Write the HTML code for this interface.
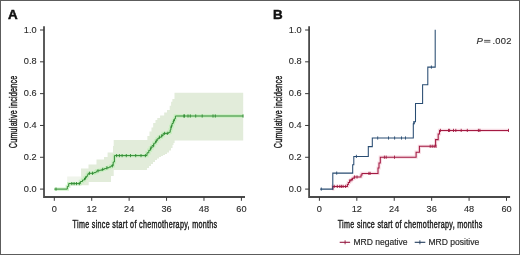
<!DOCTYPE html>
<html><head><meta charset="utf-8"><style>
html,body{margin:0;padding:0;background:#fff;}
svg{display:block;will-change:transform;}
text{font-family:"Liberation Sans",sans-serif;fill:#222;}
.tk{font-size:9.2px;fill:#2a2a2a;stroke:#2a2a2a;stroke-width:0.12px;}
.lab{font-size:10.7px;fill:#1a1a1a;stroke:#1a1a1a;stroke-width:0.42px;}
.pl{font-size:13.4px;font-weight:bold;fill:#111;stroke:#111;stroke-width:0.5px;}
.pv{font-size:9.2px;fill:#2a2a2a;stroke:#2a2a2a;stroke-width:0.12px;}
.lg{font-size:8.7px;fill:#2a2a2a;stroke:#2a2a2a;stroke-width:0.18px;}
.lgl{font-size:8.4px;stroke-width:0.08px;fill:#333;}
</style></head><body>
<svg width="520" height="255" viewBox="0 0 520 255">
<rect x="0" y="0" width="520" height="255" fill="#fff"/>
<polygon points="67.20,176.50 81.00,176.50 81.00,168.50 88.50,168.50 88.50,164.50 96.50,164.50 96.50,159.50 104.00,159.50 104.00,157.00 107.60,157.00 107.60,152.60 113.00,152.60 113.00,146.00 113.70,146.00 113.70,140.00 147.40,140.00 147.40,136.00 149.50,136.00 149.50,131.50 151.50,131.50 151.50,127.50 153.20,127.50 153.20,123.00 155.50,123.00 155.50,120.00 157.30,120.00 157.30,118.00 160.10,118.00 160.10,115.40 164.20,115.40 164.20,112.50 167.00,112.50 167.00,110.00 169.70,110.00 169.70,105.80 171.10,105.80 171.10,101.70 172.40,101.70 172.40,99.00 174.50,99.00 174.50,92.70 243.20,92.70 243.20,140.60 174.60,140.60 174.60,143.00 173.50,143.00 173.50,145.00 172.50,145.00 172.50,148.00 171.00,148.00 171.00,150.50 169.00,150.50 169.00,152.50 167.00,152.50 167.00,154.00 165.00,154.00 165.00,155.00 163.00,155.00 163.00,156.00 161.00,156.00 161.00,157.00 159.00,157.00 159.00,158.50 157.00,158.50 157.00,160.00 155.00,160.00 155.00,162.00 153.00,162.00 153.00,164.00 151.00,164.00 151.00,166.00 149.00,166.00 149.00,168.00 147.00,168.00 147.00,170.00 113.70,170.00 113.70,176.00 111.00,176.00 111.00,182.00 88.70,182.00 88.70,185.30 81.00,185.30 81.00,186.00 67.20,186.00" fill="#e2ecda"/>
<rect x="67" y="176" width="14.2" height="11" fill="#fff" fill-opacity="0.45"/>
<path d="M44.00 27.20V197.00H244.10" stroke="#4a4a4a" stroke-width="1.8" fill="none" stroke-linecap="square"/>
<path d="M40.00 189.10H44.00M40.00 157.28H44.00M40.00 125.46H44.00M40.00 93.64H44.00M40.00 61.82H44.00M40.00 30.00H44.00M54.30 197.00V200.80M91.72 197.00V200.80M129.14 197.00V200.80M166.56 197.00V200.80M203.98 197.00V200.80M241.40 197.00V200.80" stroke="#383838" stroke-width="1.0" fill="none"/>
<text x="36.55" y="191.75" text-anchor="end" class="tk">0.0</text>
<text x="36.55" y="159.93" text-anchor="end" class="tk">0.2</text>
<text x="36.55" y="128.11" text-anchor="end" class="tk">0.4</text>
<text x="36.55" y="96.29" text-anchor="end" class="tk">0.6</text>
<text x="36.55" y="64.47" text-anchor="end" class="tk">0.8</text>
<text x="36.55" y="32.65" text-anchor="end" class="tk">1.0</text>
<text x="54.30" y="212.10" text-anchor="middle" class="tk">0</text>
<text x="91.72" y="212.10" text-anchor="middle" class="tk">12</text>
<text x="129.14" y="212.10" text-anchor="middle" class="tk">24</text>
<text x="166.56" y="212.10" text-anchor="middle" class="tk">36</text>
<text x="203.98" y="212.10" text-anchor="middle" class="tk">48</text>
<text x="241.40" y="212.10" text-anchor="middle" class="tk">60</text>
<text transform="translate(72.60,227.9) scale(0.670,1)" class="lab" textLength="215.82" lengthAdjust="spacing">Time since start of chemotherapy, months</text>
<text transform="translate(17.20,148.2) rotate(-90) scale(0.670,1)" class="lab" textLength="108.06" lengthAdjust="spacing">Cumulative incidence</text>
<path d="M54.30 189.10H67.30V186.40H68.70V183.60H80.40V181.50H82.50V180.00H84.50V178.00H86.20V176.50H87.30V174.80H88.20V173.30H93.90V172.60H95.90V171.80H96.80V170.80H99.40V170.20H101.80V169.40H104.30V168.60H106.80V167.80H109.00V167.00H111.00V165.80H113.20V162.00H114.40V155.60H147.00V152.80H148.80V150.30H150.40V148.00H152.00V145.60H153.80V143.20H155.60V141.00H157.20V138.80H159.00V137.20H161.40V135.60H163.20V133.40H168.60V132.30H170.20V129.80H170.90V126.50H172.00V123.50H173.20V121.00H174.40V118.80H175.40V116.00H243.20" stroke="#bdf0b5" stroke-width="3.4" fill="none" stroke-opacity="0.7"/>
<path d="M54.30 189.10H67.30V186.40H68.70V183.60H80.40V181.50H82.50V180.00H84.50V178.00H86.20V176.50H87.30V174.80H88.20V173.30H93.90V172.60H95.90V171.80H96.80V170.80H99.40V170.20H101.80V169.40H104.30V168.60H106.80V167.80H109.00V167.00H111.00V165.80H113.20V162.00H114.40V155.60H147.00V152.80H148.80V150.30H150.40V148.00H152.00V145.60H153.80V143.20H155.60V141.00H157.20V138.80H159.00V137.20H161.40V135.60H163.20V133.40H168.60V132.30H170.20V129.80H170.90V126.50H172.00V123.50H173.20V121.00H174.40V118.80H175.40V116.00H243.20" stroke="#338c35" stroke-width="1.0" fill="none"/>
<path d="M56.00 187.50V190.70M71.80 182.00V185.20M74.10 182.00V185.20M76.50 182.00V185.20M79.30 182.00V185.20M85.50 176.40V179.60M89.50 171.70V174.90M92.50 171.70V174.90M98.00 169.20V172.40M102.70 167.80V171.00M106.90 166.20V169.40M112.40 164.20V167.40M116.60 154.00V157.20M119.40 154.00V157.20M122.10 154.00V157.20M126.30 154.00V157.20M130.50 154.00V157.20M135.70 154.00V157.20M141.00 154.00V157.20M145.40 154.00V157.20M150.90 146.40V149.60M153.60 144.00V147.20M156.30 139.40V142.60M159.40 135.60V138.80M161.90 134.00V137.20M164.60 131.80V135.00M167.30 131.80V135.00M171.40 124.90V128.10M173.60 119.40V122.60M183.80 114.40V117.60M184.50 114.40V117.60M188.00 114.40V117.60M190.30 114.40V117.60M195.70 114.40V117.60M202.20 114.40V117.60M213.00 114.40V117.60M215.30 114.40V117.60M243.00 114.40V117.60" stroke="#338c35" stroke-width="0.90" fill="none"/>
<text x="8.1" y="19.35" class="pl">A</text>
<path d="M332.30 189.10H332.80V186.40H347.40V184.50H348.30V182.50H349.50V180.80H351.00V179.50H352.50V178.30H354.00V177.00H361.00V175.00H362.00V173.40H378.00V168.00H379.00V163.00H380.30V157.20H416.10V152.20H419.40V146.30H435.60V139.60H438.20V134.00H439.50V130.40H508.80" stroke="#f2c4d2" stroke-width="3.2" fill="none" stroke-opacity="0.6"/>
<path d="M332.30 189.10H332.80V186.40H347.40V184.50H348.30V182.50H349.50V180.80H351.00V179.50H352.50V178.30H354.00V177.00H361.00V175.00H362.00V173.40H378.00V168.00H379.00V163.00H380.30V157.20H416.10V152.20H419.40V146.30H435.60V139.60H438.20V134.00H439.50V130.40H508.80" stroke="#a31a42" stroke-width="1.05" fill="none"/>
<path d="M320.20 189.10H332.80V173.10H352.70V164.80H353.80V156.40H368.30V146.60H372.30V138.00H413.30V123.70H414.20V121.80H415.50V103.50H422.60V84.70H427.80V67.10H435.20V29.70H435.20" stroke="#284c72" stroke-width="1.05" fill="none"/>
<path d="M334.20 184.80V188.00M337.30 184.80V188.00M339.80 184.80V188.00M341.40 184.80V188.00M343.10 184.80V188.00M345.60 184.80V188.00M349.90 179.20V182.40M352.00 177.90V181.10M354.60 175.40V178.60M357.00 175.40V178.60M368.90 171.80V175.00M370.10 171.80V175.00M384.40 155.60V158.80M386.20 155.60V158.80M394.50 155.60V158.80M430.20 144.70V147.90M432.20 144.70V147.90M434.20 144.70V147.90M436.00 144.70V147.90M440.40 128.80V132.00M448.50 128.80V132.00M449.60 128.80V132.00M453.50 128.80V132.00M455.80 128.80V132.00M461.20 128.80V132.00M467.30 128.80V132.00M478.40 128.80V132.00M479.90 128.80V132.00M508.50 128.80V132.00" stroke="#a31a42" stroke-width="0.90" fill="none"/>
<path d="M321.30 187.50V190.70M336.70 171.50V174.70M356.40 154.80V158.00M377.70 136.40V139.60M388.50 136.40V139.60M394.60 136.40V139.60M401.50 136.40V139.60M405.50 136.40V139.60M413.80 121.10V124.30M431.40 65.50V68.70" stroke="#284c72" stroke-width="0.90" fill="none"/>
<path d="M309.10 27.20V197.00H509.20" stroke="#4a4a4a" stroke-width="1.8" fill="none" stroke-linecap="square"/>
<path d="M305.10 189.10H309.10M305.10 157.28H309.10M305.10 125.46H309.10M305.10 93.64H309.10M305.10 61.82H309.10M305.10 30.00H309.10M319.40 197.00V200.80M356.82 197.00V200.80M394.24 197.00V200.80M431.66 197.00V200.80M469.08 197.00V200.80M506.50 197.00V200.80" stroke="#383838" stroke-width="1.0" fill="none"/>
<text x="301.65" y="191.75" text-anchor="end" class="tk">0.0</text>
<text x="301.65" y="159.93" text-anchor="end" class="tk">0.2</text>
<text x="301.65" y="128.11" text-anchor="end" class="tk">0.4</text>
<text x="301.65" y="96.29" text-anchor="end" class="tk">0.6</text>
<text x="301.65" y="64.47" text-anchor="end" class="tk">0.8</text>
<text x="301.65" y="32.65" text-anchor="end" class="tk">1.0</text>
<text x="319.40" y="212.10" text-anchor="middle" class="tk">0</text>
<text x="356.82" y="212.10" text-anchor="middle" class="tk">12</text>
<text x="394.24" y="212.10" text-anchor="middle" class="tk">24</text>
<text x="431.66" y="212.10" text-anchor="middle" class="tk">36</text>
<text x="469.08" y="212.10" text-anchor="middle" class="tk">48</text>
<text x="506.50" y="212.10" text-anchor="middle" class="tk">60</text>
<text transform="translate(337.70,227.9) scale(0.670,1)" class="lab" textLength="215.82" lengthAdjust="spacing">Time since start of chemotherapy, months</text>
<text transform="translate(282.30,148.2) rotate(-90) scale(0.670,1)" class="lab" textLength="108.06" lengthAdjust="spacing">Cumulative incidence</text>
<text x="272.9" y="19.35" class="pl">B</text>
<text x="476.4" y="44.4" class="pv" style="font-style:italic;font-size:9.5px">P</text>
<path d="M484.1 40.4H490.4M484.1 42.1H490.4" stroke="#3a3a3a" stroke-width="0.85"/>
<text x="492.4" y="44.4" class="pv" style="font-size:9.4px;letter-spacing:0.3px">.002</text>
<path d="M339.7 242.3H350.1" stroke="#951a40" stroke-width="1.1"/>
<path d="M345.1 240.3V244.3" stroke="#951a40" stroke-width="0.9"/>
<path d="M414.7 242.3H425.3" stroke="#223c5c" stroke-width="1.1"/>
<path d="M419.9 240.3V244.3" stroke="#223c5c" stroke-width="0.9"/>
<text x="353.4" y="245.1" class="lg" textLength="54.1" lengthAdjust="spacingAndGlyphs">MRD negative</text>
<text x="428.4" y="245.1" class="lg" textLength="50.9" lengthAdjust="spacingAndGlyphs">MRD positive</text>
<rect x="0.5" y="0.5" width="519" height="254" fill="none" stroke="#5c5c5c" stroke-width="1"/>
</svg>
</body></html>
